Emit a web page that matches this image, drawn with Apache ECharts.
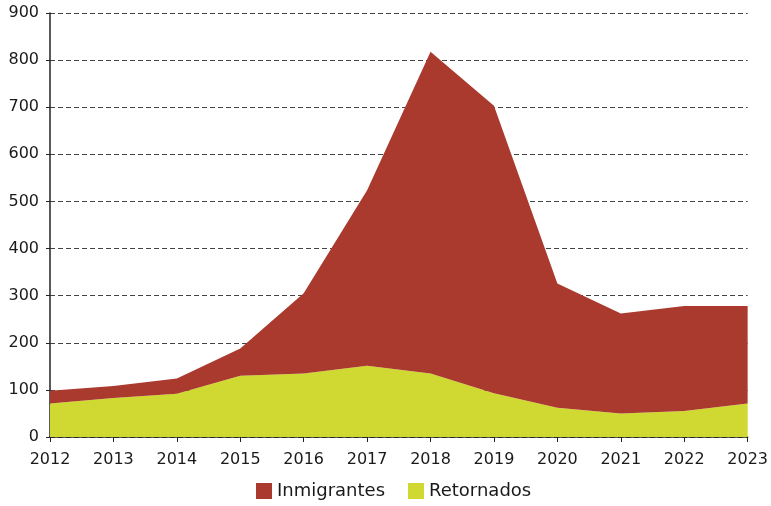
<!DOCTYPE html>
<html>
<head>
<meta charset="utf-8">
<script src="https://cdn.jsdelivr.net/npm/echarts@6/dist/echarts.min.js"></script>
<style>
  html, body { margin: 0; padding: 0; background: #fff; }
  #chart { width: 771px; height: 506px; }
</style>
</head>
<body>
<div id="chart"></div>
<script>
// years on the x axis
const years = ['2012', '2013', '2014', '2015', '2016', '2017', '2018', '2019', '2020', '2021', '2022', '2023']
// bottom layer
const retornados = [71, 83, 92, 130, 135, 151, 135, 93, 62, 50, 55, 71]
// stacked on top of retornados
const inmigrantes = [27, 25, 32, 58, 170, 373, 683, 610, 264, 212, 223, 207]

const font = 'DejaVu Sans'
const chart = echarts.init(document.getElementById('chart'))

chart.setOption({
    animation: false,
    grid: { left: 50, right: 21, top: 13, bottom: 69 },
    legend: {
        bottom: 6,
        left: 256,
        padding: 0,
        icon: 'rect',
        itemWidth: 16,
        itemHeight: 16,
        itemGap: 23,
        data: ['Inmigrantes', 'Retornados'],
        textStyle: { fontFamily: font, fontSize: 18, color: '#1a1a1a' }
    },
    xAxis: {
        type: 'category',
        data: years,
        boundaryGap: false,
        axisLine: { lineStyle: { color: '#222', width: 1.5 } },
        axisTick: { alignWithLabel: true, length: 5, lineStyle: { color: '#222' } },
        axisLabel: { fontFamily: font, fontSize: 16, color: '#1a1a1a', margin: 15 }
    },
    yAxis: {
        type: 'value',
        min: 0,
        max: 900,
        interval: 100,
        axisLine: { show: true, lineStyle: { color: '#222', width: 1.5 } },
        axisTick: { show: true, length: 4, lineStyle: { color: '#222' } },
        axisLabel: { fontFamily: font, fontSize: 16, color: '#1a1a1a', margin: 11 },
        splitLine: { lineStyle: { color: '#444', type: [5, 3], width: 1 } }
    },
    series: [
        {
            name: 'Retornados',
            type: 'line',
            stack: 'total',
            data: retornados,
            symbol: 'none',
            lineStyle: { width: 0 },
            itemStyle: { color: '#D0D931' },
            areaStyle: { color: '#D0D931', opacity: 1 }
        },
        {
            name: 'Inmigrantes',
            type: 'line',
            stack: 'total',
            data: inmigrantes,
            symbol: 'none',
            lineStyle: { width: 0 },
            itemStyle: { color: '#AA3A2E' },
            areaStyle: { color: '#AA3A2E', opacity: 1 }
        }
    ]
})
</script>
</body>
</html>
